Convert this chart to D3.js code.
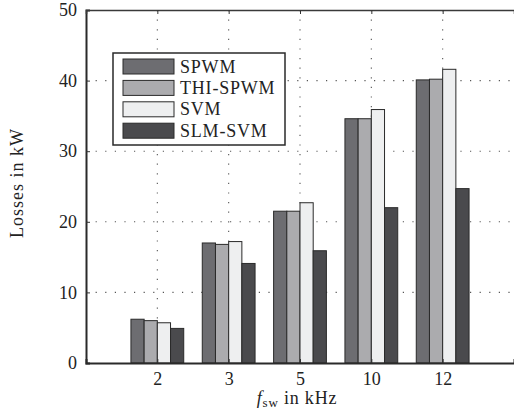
<!DOCTYPE html>
<html>
<head>
<meta charset="utf-8">
<script src="https://cdn.jsdelivr.net/npm/d3@7"></script>
<style>
  body { margin: 0; background: #fff; }
</style>
</head>
<body>
<svg id="chart" width="514" height="416"></svg>
<script>
// data
const categories = ["2", "3", "5", "10", "12"];
const seriesNames = ["SPWM", "THI-SPWM", "SVM", "SLM-SVM"];
const spwm    = [6.2, 17.0, 21.5, 34.6, 40.1];
const thiSpwm = [6.0, 16.8, 21.5, 34.6, 40.2];
const svm     = [5.7, 17.2, 22.7, 35.9, 41.6];
const slmSvm  = [4.9, 14.1, 15.9, 22.0, 24.7];
const yTicks  = [0, 10, 20, 30, 40, 50];

const seriesValues = [spwm, thiSpwm, svm, slmSvm];
const colors = ["#6d6d71", "#ababae", "#eeeff0", "#4a4a4d"];
const serif = '"Liberation Serif"';

const svg = d3.select("#chart");
const pLeft = 86, pRight = 514, pTop = 10, pBottom = 363;

// bars sit at 1..5 on a 0..6 axis, like the matlab default
const x = d3.scaleLinear().domain([0, categories.length + 1]).range([pLeft, pRight]);
const y = d3.scaleLinear().domain([0, 50]).range([pBottom, pTop]);
const bw = 0.185; // bar width in axis units

// grid
const grid = svg.append("g")
  .attr("stroke", "#555")
  .attr("stroke-width", 1.1)
  .attr("stroke-dasharray", "1.2,8.4");
grid.selectAll("line.v")
  .data(categories)
  .join("line")
    .attr("class", "v")
    .attr("x1", (d, i) => x(i + 1)).attr("x2", (d, i) => x(i + 1))
    .attr("y1", pTop).attr("y2", pBottom);
grid.selectAll("line.h")
  .data(yTicks.slice(1, -1))
  .join("line")
    .attr("class", "h")
    .attr("x1", pLeft).attr("x2", pRight)
    .attr("y1", d => y(d)).attr("y2", d => y(d));

// bars
seriesValues.forEach((vals, s) => {
  svg.append("g")
    .selectAll("rect")
    .data(vals)
    .join("rect")
      .attr("x", (d, i) => x(i + 1 + (s - 2) * bw))
      .attr("width", x(bw) - x(0))
      .attr("y", d => y(d))
      .attr("height", d => y(0) - y(d))
      .attr("fill", colors[s])
      .attr("stroke", "#2a2a2a")
      .attr("stroke-width", 1);
});

// axes
const yAxis = d3.axisLeft(y).tickValues(yTicks).tickSize(-4).tickPadding(9);
const gy = svg.append("g").attr("transform", `translate(${pLeft},0)`).call(yAxis);
const xAxis = d3.axisBottom(x).tickValues(d3.range(1, categories.length + 1))
  .tickFormat((d, i) => categories[i]).tickSize(-4).tickPadding(9);
const gx = svg.append("g").attr("transform", `translate(0,${pBottom})`).call(xAxis);
const xTop = d3.axisTop(x).tickValues(d3.range(1, categories.length + 1))
  .tickFormat("").tickSize(-4);
const gt = svg.append("g").attr("transform", `translate(0,${pTop})`).call(xTop);

[gx, gy, gt].forEach(g => {
  g.selectAll("text").style("font-family", serif).attr("font-size", 18).attr("fill", "#222");
  g.selectAll(".tick line").attr("stroke", "#333");
});
gy.select(".domain").attr("stroke", "#2a2a2a").attr("stroke-width", 2);
gx.select(".domain").attr("stroke", "#2a2a2a").attr("stroke-width", 2);
gt.select(".domain").attr("stroke", "#3a3a3a").attr("stroke-width", 1.5);

// axis labels
svg.append("text")
  .attr("transform", "translate(23,183) rotate(-90)")
  .attr("text-anchor", "middle")
  .style("font-family", serif)
  .attr("font-size", 18)
  .attr("fill", "#222")
  .attr("letter-spacing", 1)
  .text("Losses in kW");

const xl = svg.append("text")
  .attr("x", 297).attr("y", 404)
  .attr("text-anchor", "middle")
  .style("font-family", serif)
  .attr("font-size", 18)
  .attr("fill", "#222")
  .attr("letter-spacing", 0.8);
xl.append("tspan").attr("font-style", "italic").text("f");
xl.append("tspan").attr("font-size", 13).attr("dy", 3).text("sw");
xl.append("tspan").attr("dy", -3).text(" in kHz");

// legend
const lg = svg.append("g").attr("transform", "translate(113,53)");
lg.append("rect")
  .attr("width", 172).attr("height", 92)
  .attr("fill", "#fff").attr("stroke", "#2a2a2a").attr("stroke-width", 1.5);
const rows = lg.selectAll("g.row")
  .data(seriesNames)
  .join("g")
    .attr("transform", (d, i) => `translate(10,${6 + i * 21.4})`);
rows.append("rect")
  .attr("width", 51).attr("height", 15)
  .attr("fill", (d, i) => colors[i])
  .attr("stroke", "#2a2a2a").attr("stroke-width", 1);
rows.append("text")
  .attr("x", 57).attr("y", 13.5)
  .style("font-family", serif)
  .attr("font-size", 18)
  .attr("fill", "#222")
  .attr("letter-spacing", 0.8)
  .text(d => d);
</script>
</body>
</html>
